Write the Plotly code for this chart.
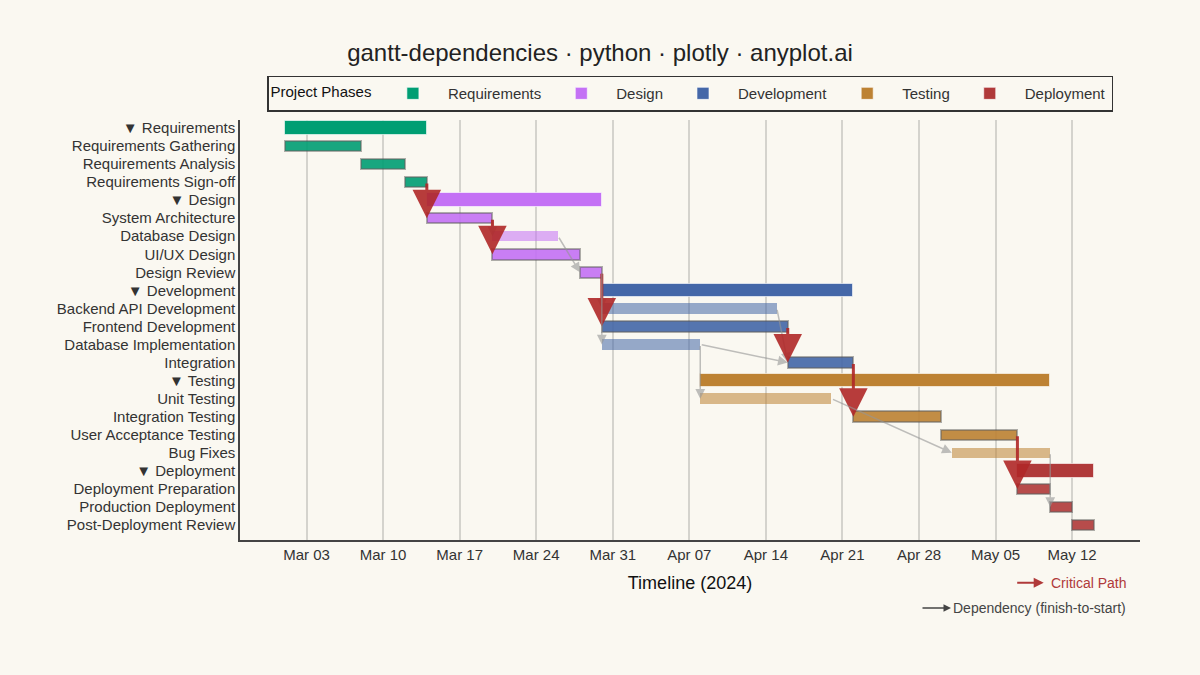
import plotly.graph_objects as go
from datetime import datetime

phases = ['Requirements', 'Design', 'Development', 'Testing', 'Deployment']
phase_colors = ['#009E73', '#C471F5', '#4467A8', '#BD8233', '#B03A3A']

task_names = ['Requirements Gathering', 'Requirements Analysis', 'Requirements Sign-off',
              'System Architecture', 'Database Design', 'UI/UX Design', 'Design Review',
              'Backend API Development', 'Frontend Development', 'Database Implementation', 'Integration',
              'Unit Testing', 'Integration Testing', 'User Acceptance Testing', 'Bug Fixes',
              'Deployment Preparation', 'Production Deployment', 'Post-Deployment Review']
task_phase = [0, 0, 0, 1, 1, 1, 1, 2, 2, 2, 2, 3, 3, 3, 3, 4, 4, 4]
task_start = ['2024-03-01', '2024-03-08', '2024-03-12', '2024-03-14', '2024-03-20', '2024-03-20',
              '2024-03-28', '2024-03-30', '2024-03-30', '2024-03-30', '2024-04-16', '2024-04-08',
              '2024-04-22', '2024-04-30', '2024-05-01', '2024-05-07', '2024-05-10', '2024-05-12']
task_end = ['2024-03-08', '2024-03-12', '2024-03-14', '2024-03-20', '2024-03-26', '2024-03-28',
            '2024-03-30', '2024-04-15', '2024-04-16', '2024-04-08', '2024-04-22', '2024-04-20',
            '2024-04-30', '2024-05-07', '2024-05-10', '2024-05-10', '2024-05-12', '2024-05-14']
task_critical = [True, True, True, True, False, True, True, False, True, False, True,
                 False, True, True, False, True, True, True]

# (predecessor, successor, critical)
dependencies = [
    ('Requirements Sign-off', 'System Architecture', True),
    ('System Architecture', 'Database Design', False),
    ('System Architecture', 'UI/UX Design', True),
    ('Database Design', 'Design Review', False),
    ('Design Review', 'Backend API Development', False),
    ('Design Review', 'Frontend Development', True),
    ('Design Review', 'Database Implementation', False),
    ('Backend API Development', 'Integration', False),
    ('Frontend Development', 'Integration', True),
    ('Database Implementation', 'Integration', False),
    ('Database Implementation', 'Unit Testing', False),
    ('Integration', 'Integration Testing', True),
    ('Unit Testing', 'Bug Fixes', False),
    ('User Acceptance Testing', 'Deployment Preparation', True),
    ('Bug Fixes', 'Production Deployment', False),
]

def d(s):
    return datetime.strptime(s, '%Y-%m-%d')

def ms(a, b):
    return (d(b) - d(a)).total_seconds() * 1000

# build rows: phase summary then its tasks
rows = []
for p in range(len(phases)):
    rows.append(('▼ ' + phases[p], 'phase', p))
    for i, tp in enumerate(task_phase):
        if tp == p:
            rows.append((task_names[i], 'task', i))
row_of = {task_names[idx]: r for r, (lab, kind, idx) in enumerate(rows) if kind == 'task'}

fig = go.Figure()

for r, (lab, kind, idx) in enumerate(rows):
    if kind == 'phase':
        ts = [task_start[i] for i in range(len(task_names)) if task_phase[i] == idx]
        te = [task_end[i] for i in range(len(task_names)) if task_phase[i] == idx]
        s, e = min(ts), max(te)
        fig.add_trace(go.Bar(y=[r], x=[ms(s, e)], base=[s], orientation='h', width=0.76,
            marker=dict(color=phase_colors[idx], line=dict(color='rgba(255,255,255,0.6)', width=1)),
            name=phases[idx], legendgroup=phases[idx], showlegend=True))
    else:
        c = phase_colors[task_phase[idx]]
        crit = task_critical[idx]
        fig.add_trace(go.Bar(y=[r], x=[ms(task_start[idx], task_end[idx])], base=[task_start[idx]],
            orientation='h', width=0.58, opacity=0.9 if crit else 0.55,
            marker=dict(color=c, line=dict(color='rgba(80,80,80,0.5)' if crit else 'rgba(255,255,255,0)', width=2)),
            legendgroup=phases[task_phase[idx]], showlegend=False))

annotations = []
for a, b, crit in dependencies:
    ia, ib = task_names.index(a), task_names.index(b)
    annotations.append(dict(
        x=task_start[ib], y=row_of[b], ax=task_end[ia], ay=row_of[a],
        xref='x', yref='y', axref='x', ayref='y', text='', showarrow=True,
        arrowhead=2, arrowsize=1.9 if crit else 1.3, arrowwidth=3 if crit else 1.5,
        arrowcolor='rgba(176,40,40,0.9)' if crit else 'rgba(150,150,150,0.6)'))

annotations += [
    dict(x=0.987, y=-0.102, xref='paper', yref='paper', text='Critical Path', showarrow=False,
         xanchor='right', yanchor='middle', font=dict(size=14, color='#B03A3A')),
    dict(x=0.893, y=-0.102, ax=-28, ay=0, xref='paper', yref='paper', text='', showarrow=True,
         arrowhead=2, arrowwidth=2, arrowcolor='#B03A3A'),
    dict(x=0.987, y=-0.162, xref='paper', yref='paper', text='Dependency (finish-to-start)', showarrow=False,
         xanchor='right', yanchor='middle', font=dict(size=14, color='#444')),
    dict(x=0.79, y=-0.162, ax=-30, ay=0, xref='paper', yref='paper', text='', showarrow=True,
         arrowhead=2, arrowwidth=1.5, arrowcolor='#444'),
]

fig.update_layout(
    width=1200, height=675, paper_bgcolor='#FAF8F1', plot_bgcolor='#FAF8F1',
    font=dict(family='Liberation Sans, Arial, sans-serif', color='#333'),
    title=dict(text='gantt-dependencies · python · plotly · anyplot.ai', x=0.5, y=0.935,
               xanchor='center', yanchor='top', font=dict(size=24, color='#222')),
    margin=dict(l=240, r=60, t=120, b=135),
    barmode='overlay', bargap=0,
    legend=dict(orientation='h', x=0.5, xanchor='center', y=1.02, yanchor='bottom',
                title=dict(text='Project Phases', font=dict(size=15, color='#111')),
                bordercolor='#333', borderwidth=1.5, bgcolor='#FAF8F1',
                font=dict(size=15, color='#333'), itemwidth=60),
    annotations=annotations,
    xaxis=dict(type='date', range=['2024-02-25 22:00', '2024-05-18 05:00'],
               tick0='2024-03-03', dtick=7 * 86400000, tickformat='%b %d',
               showgrid=True, gridcolor='rgba(0,0,0,0.15)', gridwidth=1.5,
               showline=True, linecolor='#444', linewidth=1.5, ticks='',
               tickfont=dict(size=15, color='#333'),
               title=dict(text='Timeline (2024)', font=dict(size=18, color='#111'))),
    yaxis=dict(range=[22.83, -0.44], tickvals=list(range(len(rows))),
               ticktext=[r[0] for r in rows], showgrid=False, zeroline=False,
               showline=True, linecolor='#444', linewidth=1.5,
               tickfont=dict(size=15, color='#333')),
)

fig.write_html('out.html', config={'displayModeBar': False},
               post_script="document.body.style.margin='0';")
